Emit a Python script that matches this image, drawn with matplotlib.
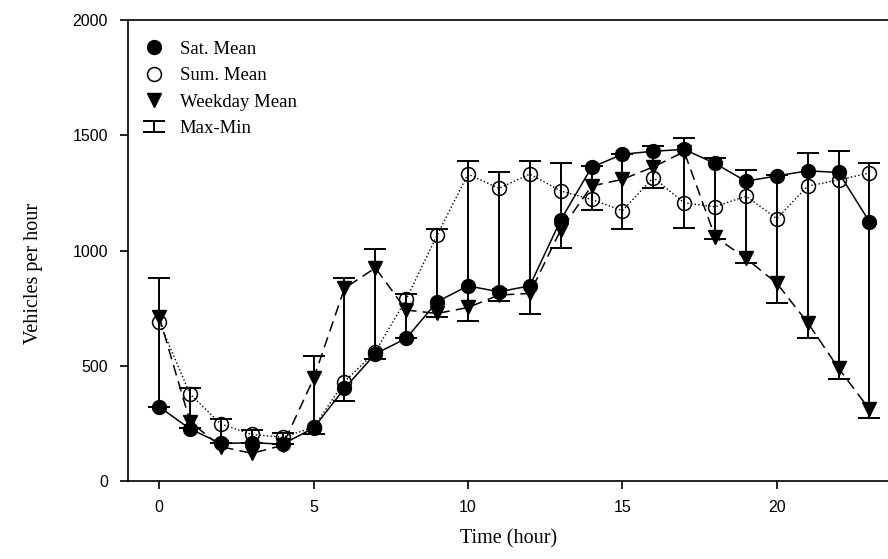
import matplotlib
matplotlib.use("Agg")
import matplotlib.pyplot as plt
from matplotlib.legend_handler import HandlerErrorbar
from matplotlib.container import ErrorbarContainer
import numpy as np

hours = list(range(24))
sat_mean = [322, 226, 163, 166, 160, 230, 402, 552, 619, 778, 847, 821, 847, 1132,
            1361, 1418, 1431, 1439, 1378, 1301, 1324, 1346, 1339, 1125]
sum_mean = [691, 377, 247, 202, 190, 233, 431, 561, 789, 1067, 1332, 1270, 1332, 1259,
            1222, 1173, 1317, 1207, 1190, 1236, 1139, 1280, 1306, 1337]
weekday_mean = [713, 257, 149, 120, 155, 445, 836, 925, 742, 727, 753, 807, 814, 1089,
                1280, 1309, 1363, 1429, 1060, 966, 858, 687, 489, 311]
err_max = [882, 402, 268, 221, 210, 542, 882, 1006, 810, 1092, 1387, 1342, 1389, 1378,
           1365, 1420, 1455, 1487, 1400, 1349, 1330, 1424, 1433, 1381]
err_min = [322, 230, 163, 166, 160, 202, 347, 528, 619, 713, 694, 781, 723, 1009,
           1176, 1093, 1272, 1100, 1050, 944, 771, 619, 441, 275]

x_ticks = [0, 5, 10, 15, 20]
y_ticks = [0, 500, 1000, 1500, 2000]

fig = plt.figure(figsize=(8.88, 5.59), dpi=100)
ax = fig.add_axes([0.1445, 0.1395, 0.8555, 0.8245])

x = np.array(hours)
mid = (np.array(err_max) + np.array(err_min)) / 2
yerr = np.vstack([mid - np.array(err_min), np.array(err_max) - mid])
eb = ax.errorbar(x, mid, yerr=yerr, fmt='none', ecolor='black', elinewidth=1.4,
                 capsize=8, capthick=1.4, zorder=2, label='Max-Min')

l_sat, = ax.plot(x, sat_mean, '-', color='black', lw=1.1, marker='o', ms=10,
                 mfc='black', mec='black', zorder=4, label='Sat. Mean')
l_sum, = ax.plot(x, sum_mean, ':', color='black', lw=1.0, marker='o', ms=10,
                 mfc='none', mec='black', mew=1.1, zorder=3, label='Sum. Mean')
l_wk, = ax.plot(x, weekday_mean, '--', color='black', lw=1.1, marker='v', ms=10.5,
                mfc='black', mec='black', zorder=4, dashes=(7, 4), label='Weekday Mean')

ax.set_xlim(-1, 23.6)
ax.set_ylim(0, 2000)
ax.set_xticks(x_ticks)
ax.set_yticks(y_ticks)
ax.spines['right'].set_visible(False)
for s in ['left', 'bottom', 'top']:
    ax.spines[s].set_linewidth(1.2)
ax.tick_params(axis='both', direction='out', length=5.8, width=1.2, labelsize=11.5)
for lab in ax.get_xticklabels() + ax.get_yticklabels():
    lab.set_family('Liberation Sans')
ax.tick_params(axis='x', pad=8)
ax.tick_params(axis='y', pad=9)

ax.set_xlabel('Time (hour)', family='Liberation Serif', fontsize=14.5, labelpad=10)
ax.set_ylabel('Vehicles per hour', family='Liberation Serif', fontsize=14.5)
ax.yaxis.set_label_coords(-0.112, 0.45)

leg = ax.legend(handles=[l_sat, l_sum, l_wk, eb],
                labels=['Sat. Mean', 'Sum. Mean', 'Weekday Mean', 'Max-Min'],
                loc='upper left', bbox_to_anchor=(0.0, 0.988), frameon=False,
                prop={'family': 'Liberation Serif', 'size': 13.5},
                handlelength=1.1, handletextpad=0.85, labelspacing=0.5,
                borderaxespad=0.4,
                handler_map={ErrorbarContainer: HandlerErrorbar(xerr_size=0.3, yerr_size=0.3)})
for h in leg.legend_handles[:3]:
    h.set_linestyle('none')

fig.savefig('out.png', dpi=100)
